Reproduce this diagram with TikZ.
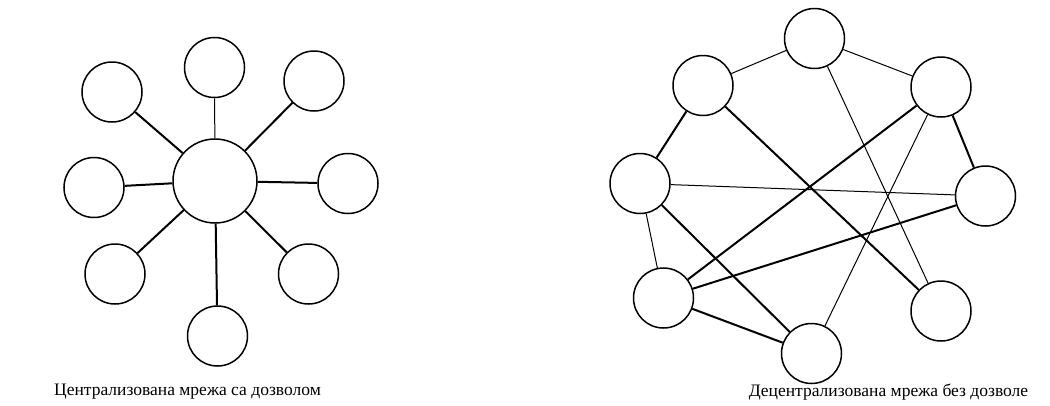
\documentclass[tikz,border=0pt]{standalone}
\usepackage{fontspec}
\setmainfont{Liberation Serif}
\begin{document}
\begin{tikzpicture}[x=1pt,y=-1pt,
  nd/.style={circle,draw,line width=1.5pt,minimum size=60pt,inner sep=0pt},
  hub/.style={circle,draw,line width=1.5pt,minimum size=84pt,inner sep=0pt},
  thk/.style={line width=2pt},
  thn/.style={line width=1pt},
  captext/.style={font=\fontsize{17.5}{20}\selectfont,inner sep=0pt}]
\useasboundingbox (0,0) rectangle (1050,405);
% left: centralized
\node[hub] (c) at (215,181) {};
\node[nd] (l1) at (214.5,67.5) {};
\node[nd] (l2) at (112,92) {};
\node[nd] (l3) at (314,81) {};
\node[nd] (l4) at (94,187.5) {};
\node[nd] (l5) at (348,183.5) {};
\node[nd] (l6) at (115,274) {};
\node[nd] (l7) at (308.5,274) {};
\node[nd] (l8) at (217.5,336) {};
\draw[thn] (l1) -- (c);
\foreach \n in {l2,l3,l4,l5,l6,l7,l8} \draw[thk] (\n) -- (c);
% right: decentralized
\node[nd] (a) at (814.5,38.5) {};
\node[nd] (b) at (703,85.5) {};
\node[nd] (d) at (941,87) {};
\node[nd] (e) at (640,183.5) {};
\node[nd] (f) at (985.5,196) {};
\node[nd] (g) at (663.5,298) {};
\node[nd] (h) at (941,311) {};
\node[nd] (k) at (811.5,353.5) {};
\draw[thn] (a) -- (b);
\draw[thn] (a) -- (d);
\draw[thn] (a) -- (h);
\draw[thk] (b) -- (e);
\draw[thk] (b) -- (h);
\draw[thk] (d) -- (f);
\draw[thk] (d) -- (g);
\draw[thn] (d) -- (k);
\draw[thn] (e) -- (f);
\draw[thn] (e) -- (g);
\draw[thk] (e) -- (k);
\draw[thk] (f) -- (g);
\draw[thk] (g) -- (k);
% captions
\node[captext] (t1) at (187.5,392) {Централизована мрежа са дозволом};
\node[captext] (t2) at (888.5,392) {Децентрализована мрежа без дозволе};
\end{tikzpicture}
\end{document}
